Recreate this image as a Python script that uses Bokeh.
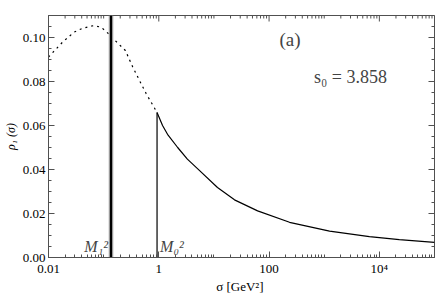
from bokeh.plotting import figure
from bokeh.models import (FixedTicker, Range1d, Label,
                          CustomJSTickFormatter, PrintfTickFormatter)
from bokeh.embed import file_html
from bokeh.resources import INLINE

# ---- data ----
m1_sq = 0.136          # M_1^2  [GeV^2]
m0_sq = 0.93           # M_0^2  [GeV^2]
x_lo, x_hi = 0.01, 1.0e5
y_top = 0.11

sigma_dashed = [0.01, 0.018, 0.029, 0.0415, 0.066, 0.09, 0.118, 0.15, 0.248,
                0.337, 0.446, 0.59, 0.93]
rho_dashed = [0.0911, 0.0979, 0.1024, 0.1042, 0.1054, 0.1047, 0.1021, 0.0994,
              0.0941, 0.0866, 0.0805, 0.0745, 0.0659]

sigma_solid = [0.93, 1.17, 1.44, 2.2, 3.3, 5.5, 11.6, 23.6, 62.0, 235.0,
               1250.0, 6600.0, 23000.0, 1.0e5]
rho_solid = [0.0659, 0.0600, 0.0560, 0.0500, 0.0447, 0.0395, 0.0318, 0.0262,
             0.0212, 0.0160, 0.0120, 0.0095, 0.0081, 0.0069]

x_major = [0.01, 1, 100, 10000]
x_minor = [k * 10.0 ** n for n in range(-2, 5) for k in range(1, 10)
           if k * 10.0 ** n not in x_major] + [1.0e5]
y_major = [0.0, 0.02, 0.04, 0.06, 0.08, 0.10]
y_minor = [i * 0.005 for i in range(0, 23)]

FONT = "Liberation Serif"
AX = "#505050"

p = figure(frame_width=386, frame_height=242, x_axis_type="log",
           x_range=Range1d(x_lo, x_hi), y_range=Range1d(0, y_top),
           output_backend="svg", toolbar_location=None,
           min_border_left=41, min_border_right=1, min_border_top=15,
           min_border_bottom=42)
p.grid.visible = False
p.outline_line_color = AX
p.background_fill_color = "white"
p.border_fill_color = "white"

# curves
p.line(sigma_dashed, rho_dashed, line_color="black", line_width=1.2,
       line_dash="2 4")
p.line(sigma_solid, rho_solid, line_color="black", line_width=1.2)
# zero line below threshold and threshold jump
p.line([x_lo, m0_sq], [0, 0], line_color="black", line_width=1.2)
p.segment(x0=[m0_sq], y0=[0], x1=[m0_sq], y1=[rho_solid[0]],
          line_color="black", line_width=1.2)
# pole at M1^2
p.segment(x0=[m1_sq], y0=[0], x1=[m1_sq], y1=[y_top],
          line_color="#9a9a9a", line_width=4.5)
p.segment(x0=[m1_sq], y0=[0], x1=[m1_sq], y1=[y_top],
          line_color="black", line_width=2)

# inward frame ticks on the top and right edges (clipped to the frame)
p.rect(x=x_major, y=[y_top] * len(x_major), width=1, height=12,
       width_units="screen", height_units="screen", fill_color=AX,
       line_color=None)
p.rect(x=x_minor, y=[y_top] * len(x_minor), width=1, height=6,
       width_units="screen", height_units="screen", fill_color=AX,
       line_color=None)
p.rect(x=[x_hi] * len(y_major), y=y_major, width=12, height=1,
       width_units="screen", height_units="screen", fill_color=AX,
       line_color=None)
p.rect(x=[x_hi] * len(y_minor), y=y_minor, width=6, height=1,
       width_units="screen", height_units="screen", fill_color=AX,
       line_color=None)

xt = FixedTicker(ticks=x_major, minor_ticks=x_minor)
yt = FixedTicker(ticks=y_major, minor_ticks=y_minor)


def style(ax):
    ax.axis_line_color = AX
    ax.major_tick_line_color = AX
    ax.minor_tick_line_color = AX
    ax.major_tick_in = 6
    ax.major_tick_out = 0
    ax.minor_tick_in = 3
    ax.minor_tick_out = 0
    ax.major_label_text_font = FONT
    ax.major_label_text_font_size = "13px"
    ax.major_label_text_color = "black"
    ax.axis_label_text_font = FONT
    ax.axis_label_text_font_size = "13px"
    ax.axis_label_text_font_style = "normal"
    ax.axis_label_text_color = "black"


xa = p.xaxis[0]
xa.ticker = xt
xa.formatter = CustomJSTickFormatter(
    code="return tick >= 10000 ? '10\u2074' : String(tick);")
xa.axis_label = "\u03c3  [GeV\u00b2]"
xa.major_label_standoff = 3
xa.axis_label_standoff = 0
style(xa)

ya = p.yaxis[0]
ya.ticker = yt
ya.formatter = PrintfTickFormatter(format="%.2f")
ya.axis_label = "\u03c1\u2081 (\u03c3)"
ya.major_label_standoff = 3
ya.axis_label_standoff = 2
style(ya)
ya.axis_label_text_font_style = "italic"
ya.axis_label_text_font_size = "12px"

# annotations
p.add_layout(Label(x=m1_sq, y=0.0, text="M\u2081\u00b2", x_offset=-3,
                   y_offset=3, text_align="right", text_font=FONT,
                   text_font_size="16px", text_font_style="italic"))
p.add_layout(Label(x=m0_sq, y=0.0, text="M\u2080\u00b2", x_offset=3,
                   y_offset=3, text_align="left", text_font=FONT,
                   text_font_size="16px", text_font_style="italic"))
p.add_layout(Label(x=240, y=0.0992, text="(a)", text_align="center",
                   text_baseline="middle", text_font=FONT,
                   text_font_size="19px"))
p.add_layout(Label(x=3000, y=0.0822, text="s\u2080 = 3.858", text_align="center",
                   text_baseline="middle", text_font=FONT,
                   text_font_size="18px"))

open("out.html", "w").write(file_html(p, INLINE))
